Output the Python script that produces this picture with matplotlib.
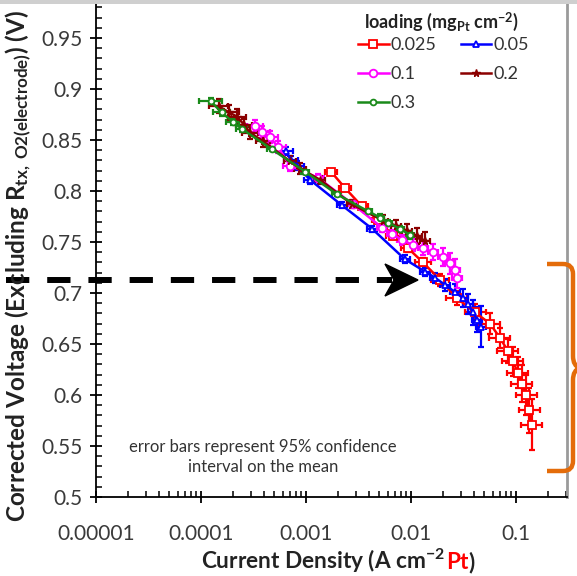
import matplotlib
matplotlib.use("Agg")
import matplotlib.pyplot as plt
import numpy as np
from matplotlib.path import Path
from matplotlib.patches import PathPatch, Polygon, Rectangle
from matplotlib.lines import Line2D
from matplotlib.ticker import FixedLocator, FixedFormatter, MultipleLocator, LogLocator, NullFormatter

plt.rcParams['font.family'] = ['Lato', 'DejaVu Sans']
plt.rcParams['mathtext.fontset'] = 'custom'
plt.rcParams['mathtext.rm'] = 'Lato'
plt.rcParams['mathtext.it'] = 'Lato:italic'
plt.rcParams['mathtext.bf'] = 'Lato:bold'

# ---------------- data ----------------
labels = ["0.025", "0.05", "0.1", "0.2", "0.3"]

x_0025 = [1.73e-3, 2.35e-3, 3.41e-3, 4.85e-3, 6.74e-3, 9.36e-3, 1.30e-2, 1.89e-2, 2.74e-2,
          4.07e-2, 5.65e-2, 7.04e-2, 8.39e-2, 9.36e-2, 1.04e-1, 1.14e-1, 1.25e-1, 1.33e-1, 1.42e-1]
y_0025 = [0.819, 0.803, 0.785, 0.772, 0.756, 0.744, 0.730, 0.713, 0.695,
          0.681, 0.670, 0.656, 0.643, 0.633, 0.622, 0.611, 0.600, 0.585, 0.571]
yerr_0025 = [0.003, 0.003, 0.003, 0.003, 0.003, 0.004, 0.004, 0.006, 0.007,
             0.008, 0.010, 0.010, 0.012, 0.014, 0.015, 0.018, 0.020, 0.022, 0.025]
xerr_0025 = [0.06, 0.06, 0.06, 0.06, 0.07, 0.07, 0.08, 0.09, 0.10,
             0.10, 0.10, 0.10, 0.10, 0.10, 0.10, 0.10, 0.10, 0.10, 0.10]

x_005 = [6.46e-4, 7.20e-4, 8.21e-4, 1.09e-3, 2.20e-3, 4.26e-3, 8.77e-3, 1.36e-2,
         1.69e-2, 2.11e-2, 2.62e-2, 3.13e-2, 3.49e-2, 3.89e-2, 4.25e-2, 4.64e-2]
y_005 = [0.839, 0.830, 0.825, 0.811, 0.786, 0.763, 0.733, 0.721,
         0.715, 0.708, 0.701, 0.695, 0.689, 0.681, 0.674, 0.667]
yerr_005 = [0.004, 0.004, 0.004, 0.004, 0.003, 0.003, 0.004, 0.004,
            0.005, 0.006, 0.008, 0.009, 0.010, 0.012, 0.012, 0.020]
xerr_005 = [0.07, 0.07, 0.07, 0.06, 0.05, 0.05, 0.05, 0.05,
            0.05, 0.05, 0.05, 0.05, 0.05, 0.05, 0.05, 0.05]

x_01 = [3.27e-4, 3.81e-4, 4.54e-4, 5.41e-4, 7.05e-4, 1.30e-3, 2.80e-3, 5.30e-3, 6.59e-3,
        8.21e-3, 1.04e-2, 1.30e-2, 1.62e-2, 2.02e-2, 2.35e-2, 2.62e-2, 2.74e-2]
y_01 = [0.864, 0.858, 0.853, 0.843, 0.825, 0.813, 0.787, 0.764, 0.758,
        0.752, 0.747, 0.744, 0.740, 0.735, 0.729, 0.723, 0.715]
yerr_01 = [0.006, 0.006, 0.006, 0.006, 0.005, 0.004, 0.004, 0.004, 0.004,
           0.005, 0.006, 0.007, 0.008, 0.009, 0.010, 0.010, 0.010]
xerr_01 = [0.08, 0.08, 0.08, 0.08, 0.07, 0.06, 0.05, 0.05, 0.05,
           0.05, 0.05, 0.05, 0.05, 0.05, 0.05, 0.05, 0.05]

x_02 = [1.48e-4, 1.85e-4, 2.20e-4, 2.57e-4, 2.93e-4, 3.89e-4, 7.05e-4, 8.77e-4, 1.36e-3,
        2.74e-3, 5.41e-3, 7.19e-3, 9.16e-3, 1.14e-2, 1.36e-2]
y_02 = [0.883, 0.877, 0.873, 0.865, 0.857, 0.849, 0.829, 0.822, 0.811,
        0.787, 0.771, 0.766, 0.761, 0.756, 0.751]
yerr_02 = [0.007, 0.007, 0.007, 0.006, 0.006, 0.006, 0.005, 0.005, 0.004,
           0.004, 0.005, 0.006, 0.007, 0.008, 0.009]
xerr_02 = [0.09, 0.09, 0.09, 0.08, 0.08, 0.07, 0.06, 0.06, 0.05,
           0.05, 0.05, 0.05, 0.05, 0.05, 0.05]

x_03 = [1.24e-4, 1.57e-4, 2.00e-4, 2.44e-4, 4.71e-4, 9.8e-4, 1.96e-3, 3.92e-3,
        5.07e-3, 6.04e-3, 7.85e-3, 9.78e-3]
y_03 = [0.888, 0.877, 0.868, 0.861, 0.841, 0.819, 0.797, 0.780,
        0.774, 0.769, 0.763, 0.757]
yerr_03 = [0.003, 0.003, 0.003, 0.003, 0.002, 0.002, 0.002, 0.002,
           0.003, 0.003, 0.003, 0.004]
xerr_03 = [0.11, 0.08, 0.06, 0.05, 0.04, 0.04, 0.04, 0.04,
           0.04, 0.04, 0.04, 0.04]

yticks = [0.5, 0.55, 0.6, 0.65, 0.7, 0.75, 0.8, 0.85, 0.9, 0.95]
ytick_labels = ["0.5", "0.55", "0.6", "0.65", "0.7", "0.75", "0.8", "0.85", "0.9", "0.95"]
xticks = [1e-5, 1e-4, 1e-3, 1e-2, 1e-1]
xtick_labels = ["0.00001", "0.0001", "0.001", "0.01", "0.1"]

legend_title = r"loading (mg$_{\mathbf{Pt}}$ cm$^{\mathbf{-2}}$)"
note_text = "error bars represent 95% confidence\ninterval on the mean"

# ---------------- figure ----------------
W, H = 577, 576
fig = plt.figure(figsize=(W / 100, H / 100), dpi=100)
fig.patch.set_facecolor("white")

def fx(px):
    return px / W

def fy(py):
    return 1 - py / H

ax_left, ax_right = 96, 567
ax_bottom_px, ax_top_px = 497, -13
ax = fig.add_axes([fx(ax_left), fy(ax_bottom_px), fx(ax_right) - fx(ax_left),
                   (ax_bottom_px - ax_top_px) / H])
ax.set_xscale("log")
ax.set_xlim(1e-5, 0.306)
ax.set_ylim(0.5, 1.0)

series = [
    (x_0025, y_0025, xerr_0025, yerr_0025, "#ff0000", "s", 5.5, "white", 1.3),
    (x_005, y_005, xerr_005, yerr_005, "#0000ff", "^", 4.5, "white", 1.3),
    (x_01, y_01, xerr_01, yerr_01, "#ff00ff", "o", 5.5, "white", 1.3),
    (x_02, y_02, xerr_02, yerr_02, "#8b0000", "*", 5.5, "#8b0000", 1.0),
    (x_03, y_03, xerr_03, yerr_03, "#1a8a1a", "o", 4.2, "white", 1.3),
]

handles = []
for (xs, ys, xe, ye, col, mk, ms, mfc, mew), lab in zip(series, labels):
    xs = np.array(xs)
    xe = np.array(xe)
    lo = xs - xs / (10 ** xe)
    hi = xs * (10 ** xe) - xs
    ax.errorbar(xs, ys, xerr=[lo, hi], yerr=ye, fmt="none", ecolor=col,
                elinewidth=1.6, capsize=2.5, capthick=1.6, zorder=2)
    h, = ax.plot(xs, ys, color=col, lw=1.8, marker=mk, ms=ms, mfc=mfc, mec=col,
                 mew=mew, label=lab, zorder=3)
    handles.append(h)

# axes styling
ax.spines["top"].set_visible(False)
ax.spines["right"].set_color("#9a9a9a")
ax.spines["right"].set_linewidth(2)
ax.spines["left"].set_linewidth(1.3)
ax.spines["bottom"].set_linewidth(1.3)

ax.yaxis.set_major_locator(FixedLocator(yticks))
ax.yaxis.set_major_formatter(FixedFormatter(ytick_labels))
ax.yaxis.set_minor_locator(MultipleLocator(0.01))
ax.xaxis.set_major_locator(FixedLocator(xticks))
ax.xaxis.set_major_formatter(FixedFormatter(xtick_labels))
ax.xaxis.set_minor_locator(LogLocator(base=10, subs=np.arange(2, 10), numticks=20))
ax.xaxis.set_minor_formatter(NullFormatter())
ax.tick_params(which="major", direction="inout", length=9, width=1.3,
               labelsize=15, colors="black", labelcolor="#3a3a3a")
ax.tick_params(axis="y", which="major", pad=5)
ax.tick_params(axis="x", which="major", pad=15)
ax.tick_params(which="minor", direction="in", length=4, width=1.1)
ax.tick_params(axis="y", which="both", right=False)
ax.tick_params(axis="x", which="both", top=False)

# y label
fig.text(fx(19), fy(266), r"Corrected Voltage (Excluding R$_{\mathregular{tx,\ O2(electrode)}}$) (V)",
         rotation=90, ha="center", va="center", fontsize=17.5, fontweight="bold",
         color="#222222")

# x label with red Pt (three pieces on one baseline)
xl_fs = 16.3
base_y = fy(569)
t1 = fig.text(fx(201), base_y, r"Current Density (A cm$^{\mathregular{-2}}$ ", ha="left",
              va="baseline", fontsize=xl_fs, fontweight="bold", color="#222222")
fig.canvas.draw()
r = fig.canvas.get_renderer()
e1 = t1.get_window_extent(r)
t2 = fig.text(e1.x1 / W, base_y, "Pt", ha="left", va="baseline", fontsize=xl_fs,
              fontweight="bold", color="#ff0000")
e2 = t2.get_window_extent(r)
t3 = fig.text(e2.x1 / W, base_y, ")", ha="left", va="baseline", fontsize=xl_fs,
              fontweight="bold", color="#222222")

# legend title as separate text, legend entries row-major
fig.text(fx(441), fy(22), legend_title, ha="center", va="center", fontsize=13,
         fontweight="bold", color="#222222")
order = [0, 2, 4, 1, 3]
leg = ax.legend([handles[i] for i in order], [labels[i] for i in order], ncol=2,
                loc="upper left", frameon=False,
                fontsize=13, handlelength=1.7, handletextpad=0.1, columnspacing=1.35,
                labelspacing=0.72, borderaxespad=0, borderpad=0)
leg.set_bbox_to_anchor((fx(358), fy(37)), transform=fig.transFigure)
for txt in leg.get_texts():
    txt.set_color("#333333")

# note
fig.text(fx(263), fy(457), note_text, ha="center", va="center", fontsize=12,
         color="#333333", linespacing=1.3)

# dashed arrow
dash = Line2D([fx(6), fx(392)], [fy(280), fy(280)], transform=fig.transFigure,
              color="black", lw=4.3, dashes=(3.9, 3.0), solid_capstyle="butt",
              dash_capstyle="butt")
fig.add_artist(dash)
head = Polygon([(fx(418), fy(280)), (fx(385), fy(264)), (fx(394), fy(280)),
                (fx(385), fy(296))], closed=True, transform=fig.transFigure,
               facecolor="black", edgecolor="black")
fig.add_artist(head)

# orange bracket
verts = [(547, 264), (563, 264), (573, 264), (573, 274), (573, 356),
         (573, 366), (580, 368),
         (573, 370), (573, 380), (573, 461), (573, 471), (563, 471), (547, 471)]
codes = [Path.MOVETO, Path.LINETO, Path.CURVE3, Path.CURVE3, Path.LINETO,
         Path.CURVE3, Path.CURVE3,
         Path.CURVE3, Path.CURVE3, Path.LINETO, Path.CURVE3, Path.CURVE3, Path.LINETO]
vf = [(fx(a), fy(b)) for a, b in verts]
bracket = PathPatch(Path(vf, codes), transform=fig.transFigure, fill=False,
                    edgecolor="#e46c0a", lw=3.2, capstyle="butt")
fig.add_artist(bracket)

# screenshot shade at top
fig.add_artist(Rectangle((0, fy(4)), 1, 1 - fy(4), transform=fig.transFigure,
                         facecolor="#cfcfcf", edgecolor="none"))

fig.savefig("out.png", dpi=100)
